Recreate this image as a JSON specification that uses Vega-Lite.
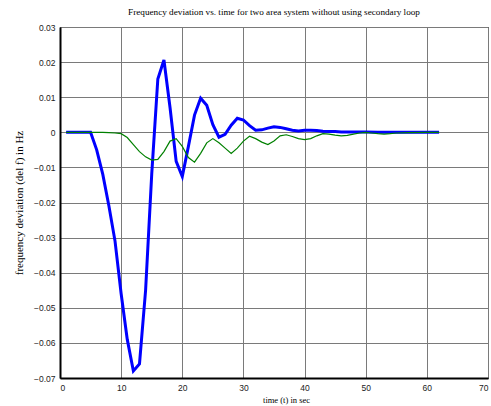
{
  "$schema": "https://vega.github.io/schema/vega-lite/v6.json",
  "width": 428,
  "height": 351,
  "autosize": {"type": "none"},
  "padding": {"left": 60, "top": 27, "right": 3, "bottom": 28},
  "background": "white",
  "title": {
    "text": "Frequency deviation vs. time for two area system without using secondary loop",
    "font": "Liberation Serif",
    "fontSize": 9.2,
    "fontWeight": "normal",
    "color": "black",
    "anchor": "middle",
    "offset": 6
  },
  "config": {
    "view": {"stroke": "black", "strokeWidth": 1},
    "axis": {
      "grid": true,
      "gridColor": "#7a7a7a",
      "gridWidth": 1,
      "gridOpacity": 1,
      "ticks": false,
      "domainColor": "black",
      "domainWidth": 2,
      "labelFont": "Liberation Sans Narrow, Liberation Sans, sans-serif",
      "labelFontSize": 8.5,
      "labelColor": "#222",
      "titleFont": "Liberation Serif",
      "titleFontWeight": "normal",
      "titleColor": "black"
    }
  },
  "data": {
    "values": [
      {"t": 1, "v": 0, "s": "a1"}, {"t": 2, "v": 0, "s": "a1"}, {"t": 3, "v": 0, "s": "a1"}, {"t": 4, "v": 0, "s": "a1"}, {"t": 5, "v": 0, "s": "a1"},
      {"t": 6, "v": -0.005, "s": "a1"}, {"t": 7, "v": -0.012, "s": "a1"}, {"t": 8, "v": -0.021, "s": "a1"}, {"t": 9, "v": -0.031, "s": "a1"}, {"t": 10, "v": -0.046, "s": "a1"},
      {"t": 11, "v": -0.059, "s": "a1"}, {"t": 12, "v": -0.068, "s": "a1"}, {"t": 13, "v": -0.066, "s": "a1"}, {"t": 14, "v": -0.045, "s": "a1"}, {"t": 15, "v": -0.012, "s": "a1"},
      {"t": 16, "v": 0.0152, "s": "a1"}, {"t": 17, "v": 0.0206, "s": "a1"}, {"t": 18, "v": 0.007, "s": "a1"}, {"t": 19, "v": -0.0083, "s": "a1"}, {"t": 20, "v": -0.0126, "s": "a1"},
      {"t": 21, "v": -0.004, "s": "a1"}, {"t": 22, "v": 0.0049, "s": "a1"}, {"t": 23, "v": 0.0097, "s": "a1"}, {"t": 24, "v": 0.0077, "s": "a1"}, {"t": 25, "v": 0.0022, "s": "a1"},
      {"t": 26, "v": -0.0014, "s": "a1"}, {"t": 27, "v": -0.0006, "s": "a1"}, {"t": 28, "v": 0.002, "s": "a1"}, {"t": 29, "v": 0.004, "s": "a1"}, {"t": 30, "v": 0.0035, "s": "a1"},
      {"t": 31, "v": 0.0019, "s": "a1"}, {"t": 32, "v": 0.0006, "s": "a1"}, {"t": 33, "v": 0.0007, "s": "a1"}, {"t": 34, "v": 0.0012, "s": "a1"}, {"t": 35, "v": 0.0016, "s": "a1"},
      {"t": 36, "v": 0.0014, "s": "a1"}, {"t": 37, "v": 0.001, "s": "a1"}, {"t": 38, "v": 0.0006, "s": "a1"}, {"t": 39, "v": 0.0004, "s": "a1"}, {"t": 40, "v": 0.0006, "s": "a1"},
      {"t": 41, "v": 0.0006, "s": "a1"}, {"t": 42, "v": 0.0005, "s": "a1"}, {"t": 43, "v": 0.0003, "s": "a1"}, {"t": 44, "v": 0.0002, "s": "a1"}, {"t": 45, "v": 0.0002, "s": "a1"},
      {"t": 46, "v": 0.0001, "s": "a1"}, {"t": 48, "v": 0.0001, "s": "a1"}, {"t": 50, "v": 0.0001, "s": "a1"}, {"t": 52, "v": 0, "s": "a1"}, {"t": 55, "v": 0, "s": "a1"},
      {"t": 58, "v": 0, "s": "a1"}, {"t": 62, "v": 0, "s": "a1"},
      {"t": 1, "v": 0, "s": "a2"}, {"t": 4, "v": 0, "s": "a2"}, {"t": 7, "v": 0, "s": "a2"}, {"t": 8, "v": -0.0001, "s": "a2"}, {"t": 9, "v": -0.0002, "s": "a2"},
      {"t": 10, "v": -0.0004, "s": "a2"}, {"t": 11, "v": -0.0015, "s": "a2"}, {"t": 12, "v": -0.0035, "s": "a2"}, {"t": 13, "v": -0.0055, "s": "a2"}, {"t": 14, "v": -0.007, "s": "a2"},
      {"t": 15, "v": -0.0079, "s": "a2"}, {"t": 16, "v": -0.0077, "s": "a2"}, {"t": 17, "v": -0.0055, "s": "a2"}, {"t": 18, "v": -0.0025, "s": "a2"}, {"t": 19, "v": -0.0018, "s": "a2"},
      {"t": 20, "v": -0.004, "s": "a2"}, {"t": 21, "v": -0.0072, "s": "a2"}, {"t": 22, "v": -0.0085, "s": "a2"}, {"t": 23, "v": -0.006, "s": "a2"}, {"t": 24, "v": -0.003, "s": "a2"},
      {"t": 25, "v": -0.0018, "s": "a2"}, {"t": 26, "v": -0.003, "s": "a2"}, {"t": 27, "v": -0.0045, "s": "a2"}, {"t": 28, "v": -0.006, "s": "a2"}, {"t": 29, "v": -0.0045, "s": "a2"},
      {"t": 30, "v": -0.0025, "s": "a2"}, {"t": 31, "v": -0.0011, "s": "a2"}, {"t": 32, "v": -0.0018, "s": "a2"}, {"t": 33, "v": -0.0028, "s": "a2"}, {"t": 34, "v": -0.0035, "s": "a2"},
      {"t": 35, "v": -0.0025, "s": "a2"}, {"t": 36, "v": -0.001, "s": "a2"}, {"t": 37, "v": -0.0007, "s": "a2"}, {"t": 38, "v": -0.0012, "s": "a2"}, {"t": 39, "v": -0.0018, "s": "a2"},
      {"t": 40, "v": -0.0021, "s": "a2"}, {"t": 41, "v": -0.0018, "s": "a2"}, {"t": 42, "v": -0.001, "s": "a2"}, {"t": 43, "v": -0.0004, "s": "a2"}, {"t": 44, "v": -0.0005, "s": "a2"},
      {"t": 45, "v": -0.0008, "s": "a2"}, {"t": 46, "v": -0.001, "s": "a2"}, {"t": 47, "v": -0.0009, "s": "a2"}, {"t": 48, "v": -0.0005, "s": "a2"}, {"t": 49, "v": -0.0002, "s": "a2"},
      {"t": 50, "v": 0, "s": "a2"}, {"t": 51, "v": -0.0002, "s": "a2"}, {"t": 52, "v": -0.0004, "s": "a2"}, {"t": 53, "v": -0.0005, "s": "a2"}, {"t": 54, "v": -0.0004, "s": "a2"},
      {"t": 55, "v": -0.0002, "s": "a2"}, {"t": 57, "v": -0.0001, "s": "a2"}, {"t": 60, "v": 0, "s": "a2"}, {"t": 62, "v": 0, "s": "a2"}
    ]
  },
  "mark": {"type": "line", "strokeJoin": "miter", "clip": true},
  "encoding": {
    "x": {
      "field": "t",
      "type": "quantitative",
      "scale": {"domain": [0, 70], "nice": false},
      "axis": {"values": [0, 10, 20, 30, 40, 50, 60, 70], "title": "time (t) in sec", "titleFontSize": 8.5, "labelPadding": 5, "titlePadding": 4, "titleX": 226}
    },
    "y": {
      "field": "v",
      "type": "quantitative",
      "scale": {"domain": [-0.07, 0.03], "nice": false, "zero": false},
      "axis": {"values": [-0.07, -0.06, -0.05, -0.04, -0.03, -0.02, -0.01, 0, 0.01, 0.02, 0.03], "format": "~g", "title": "frequency deviation (del f) in Hz", "titleFontSize": 11, "labelPadding": 5, "titleX": -36}
    },
    "color": {"field": "s", "type": "nominal", "scale": {"domain": ["a1", "a2"], "range": ["#0000ff", "#008000"]}, "legend": null},
    "strokeWidth": {"field": "s", "type": "nominal", "scale": {"domain": ["a1", "a2"], "range": [3, 1.2]}, "legend": null}
  }
}
